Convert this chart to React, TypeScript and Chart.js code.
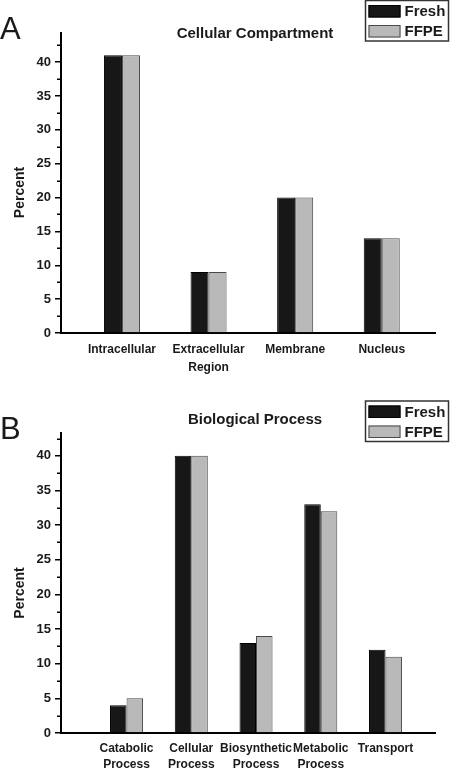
import React, { useEffect, useRef } from "react";
import { Chart, registerables } from "chart.js";

Chart.register(...registerables);

const FONT = "'Liberation Sans', Arial, Helvetica, sans-serif";

const seriesNames = ["Fresh", "FFPE"];

const compartmentCategories = [["Intracellular"], ["Extracellular", "Region"], ["Membrane"], ["Nucleus"]];
const compartmentFresh = [41, 9, 20, 14];
const compartmentFFPE = [41, 9, 20, 14];

const processCategories = [
  ["Catabolic", "Process"],
  ["Cellular", "Process"],
  ["Biosynthetic", "Process"],
  ["Metabolic", "Process"],
  ["Transport"],
];
const processFresh = [4, 40, 13, 33, 12];
const processFFPE = [5, 40, 14, 32, 11];

const yMajorTicks = [0, 5, 10, 15, 20, 25, 30, 35, 40];
const yMinorTicks = [2.5, 7.5, 12.5, 17.5, 22.5, 27.5, 32.5, 37.5, 42.5];

const decorPlugin = {
  id: "decor",
  afterDraw(chart: any, _args: any, opts: any) {
    const { ctx } = chart;
    const y = chart.scales.y;
    ctx.save();
    // minor ticks
    ctx.strokeStyle = "#000";
    ctx.lineWidth = 1.5;
    for (const v of yMinorTicks) {
      if (v > y.max) continue;
      const py = Math.round(y.getPixelForValue(v)) + 0.25;
      ctx.beginPath();
      ctx.moveTo(y.right - 4, py);
      ctx.lineTo(y.right, py);
      ctx.stroke();
    }
    ctx.fillStyle = "#1a1a1a";
    // title
    ctx.font = `bold 15px ${FONT}`;
    ctx.textAlign = "center";
    ctx.textBaseline = "middle";
    ctx.fillText(opts.title, opts.titleX, opts.titleY);
    // panel letter
    ctx.font = `31px ${FONT}`;
    ctx.textAlign = "left";
    ctx.textBaseline = "alphabetic";
    ctx.fillText(opts.letter, opts.letterX, opts.letterY);
    // y axis title
    ctx.save();
    ctx.translate(opts.yTitleX, opts.yTitleY);
    ctx.rotate(-Math.PI / 2);
    ctx.font = `bold 14px ${FONT}`;
    ctx.textAlign = "center";
    ctx.textBaseline = "middle";
    ctx.fillText("Percent", 0, 0);
    ctx.restore();
    // legend box
    const lx = 365.5;
    const ly = opts.legendTop;
    ctx.strokeStyle = "#333";
    ctx.lineWidth = 1.5;
    ctx.strokeRect(lx, ly, 83, 40.5);
    const ds = chart.data.datasets;
    ds.forEach((d: any, i: number) => {
      const sy = ly + 4.5 + i * 20;
      ctx.fillStyle = d.backgroundColor;
      ctx.fillRect(lx + 3, sy, 32, 12.5);
      ctx.strokeStyle = d.borderColor;
      ctx.lineWidth = 1;
      ctx.strokeRect(lx + 3.5, sy + 0.5, 31, 11.5);
      ctx.fillStyle = "#1a1a1a";
      ctx.font = `bold 15px ${FONT}`;
      ctx.textAlign = "left";
      ctx.textBaseline = "middle";
      ctx.fillText(d.label, lx + 39, sy + 7);
    });
    ctx.restore();
  },
};

type Panel = {
  letter: string;
  title: string;
  categories: string[][];
  fresh: number[];
  ffpe: number[];
  xMin: number;
  xMax: number;
  yMax: number;
  groupFrac: number;
  chartTop: number;
  xAxisHeight: number;
  lineHeight: number;
  titleY: number;
  letterX: number;
  letterY: number;
  yTitleY: number;
  legendTop: number;
  top: number;
};

const panels: Panel[] = [
  {
    letter: "A",
    title: "Cellular Compartment",
    categories: compartmentCategories,
    fresh: compartmentFresh,
    ffpe: compartmentFFPE,
    xMin: 0.296,
    xMax: 4.615,
    yMax: 44.3,
    groupFrac: 0.416,
    chartTop: 33,
    xAxisHeight: 52,
    lineHeight: 1.5,
    titleY: 34,
    letterX: 0,
    letterY: 39,
    yTitleY: 192.5,
    legendTop: 0.5,
    top: 0,
  },
  {
    letter: "B",
    title: "Biological Process",
    categories: processCategories,
    fresh: processFresh,
    ffpe: processFFPE,
    xMin: -0.012,
    xMax: 5.764,
    yMax: 43.3,
    groupFrac: 0.51,
    chartTop: 48,
    xAxisHeight: 37,
    lineHeight: 1.33,
    titleY: 35,
    letterX: 0,
    letterY: 54,
    yTitleY: 208,
    legendTop: 16,
    top: 385,
  },
];

function PanelChart({ p }: { p: Panel }) {
  const ref = useRef<HTMLCanvasElement>(null);
  useEffect(() => {
    if (!ref.current) return;
    const chart = new Chart(ref.current, {
      type: "bar",
      data: {
        datasets: [
          {
            label: seriesNames[0],
            data: p.fresh.map((v, i) => ({ x: i + 1, y: v })),
            backgroundColor: "#171717",
            borderColor: "#000000",
            borderWidth: 1,
            categoryPercentage: p.groupFrac,
            barPercentage: 1,
          },
          {
            label: seriesNames[1],
            data: p.ffpe.map((v, i) => ({ x: i + 1, y: v })),
            backgroundColor: "#b9b9b9",
            borderColor: "#4a4a4a",
            borderWidth: 1,
            categoryPercentage: p.groupFrac,
            barPercentage: 1,
          },
        ],
      } as any,
      options: {
        responsive: false,
        animation: false,
        events: [],
        layout: { padding: { left: 0, right: 17, top: p.chartTop, bottom: 0 } },
        plugins: {
          legend: { display: false },
          tooltip: { enabled: false },
          title: { display: false },
          decor: {
            title: p.title,
            titleX: 255,
            titleY: p.titleY,
            letter: p.letter,
            letterX: p.letterX,
            letterY: p.letterY,
            yTitleX: 20.5,
            yTitleY: p.yTitleY,
            legendTop: p.legendTop,
          },
        } as any,
        scales: {
          x: {
            type: "linear",
            offset: false,
            min: p.xMin,
            max: p.xMax,
            afterBuildTicks: (s: any) => {
              s.ticks = p.categories.map((_, i) => ({ value: i + 1 }));
            },
            afterFit: (s: any) => {
              s.height = p.xAxisHeight;
            },
            grid: { display: false, offset: false },
            border: { display: true, color: "#000", width: 2 },
            ticks: {
              autoSkip: false,
              maxRotation: 0,
              padding: 0,
              color: "#1a1a1a",
              font: { family: FONT, size: 12, weight: "bold", lineHeight: p.lineHeight },
              callback: (v: any) => p.categories[Math.round(Number(v)) - 1] ?? "",
            },
          },
          y: {
            type: "linear",
            min: 0,
            max: p.yMax,
            afterBuildTicks: (s: any) => {
              s.ticks = yMajorTicks.map((v) => ({ value: v }));
            },
            afterFit: (s: any) => {
              s.width = 61;
            },
            grid: {
              display: true,
              drawOnChartArea: false,
              drawTicks: true,
              tickLength: 6,
              color: "#000",
              lineWidth: 1.5,
            },
            border: { display: true, color: "#000", width: 2 },
            ticks: {
              padding: 4,
              color: "#1a1a1a",
              font: { family: FONT, size: 13, weight: "bold" },
            },
          },
        } as any,
      },
      plugins: [decorPlugin],
    });
    return () => chart.destroy();
  }, [p]);
  return (
    <canvas
      ref={ref}
      width={452}
      height={385}
      style={{ position: "absolute", left: 0, top: p.top, width: 452, height: 385 }}
    />
  );
}

export default function App() {
  return (
    <div style={{ position: "absolute", left: 0, top: 0, width: 452, height: 770, background: "#fff" }}>
      {panels.map((p) => (
        <PanelChart key={p.letter} p={p} />
      ))}
    </div>
  );
}
